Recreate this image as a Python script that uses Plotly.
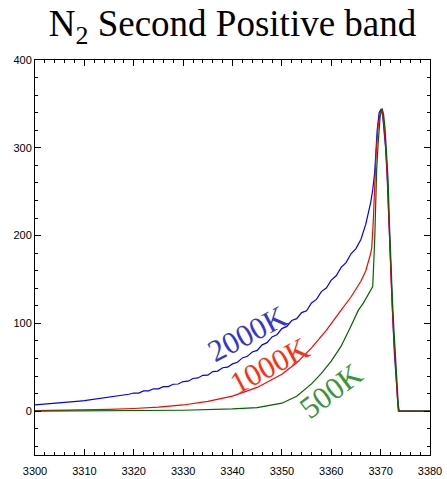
import plotly.graph_objects as go

# ---- data ----
blue_x = [3300, 3301, 3302, 3303, 3304, 3305, 3306, 3307, 3308, 3309,
          3310, 3311, 3312, 3313, 3314, 3315, 3316, 3317, 3318, 3319,
          3320, 3321, 3322, 3323, 3324, 3325, 3326, 3327, 3328, 3329,
          3330, 3331, 3332, 3333, 3334, 3335, 3336, 3337, 3338, 3339,
          3340, 3341, 3342, 3343, 3344, 3345, 3346, 3347, 3348, 3349,
          3350, 3351, 3352, 3353, 3354, 3355, 3356, 3357, 3358, 3359,
          3360, 3361, 3362, 3363, 3364, 3365, 3366, 3367, 3368, 3368.4,
          3368.8, 3369.3, 3369.7, 3370.1, 3370.4, 3370.7, 3371.0, 3371.3,
          3371.6, 3371.9, 3372.2, 3372.5, 3372.8, 3373.1, 3373.4, 3373.6,
          3374, 3376, 3378, 3380]
blue_y = [7.0, 7.4, 7.8, 8.2, 8.6, 9.0, 9.6, 10.2, 10.8, 11.4,
          12.0, 12.7, 13.4, 14.2, 15.0, 16.0, 16.8, 17.6, 18.4, 19.2,
          20.6, 20.6, 23.0, 23.0, 25.4, 25.4, 27.9, 28.0, 30.6, 30.9,
          33.7, 34.1, 37.2, 37.8, 40.8, 41.0, 45.0, 45.6, 49.4, 50.0,
          53.8, 55.6, 60.6, 62.4, 67.4, 69.2, 75.5, 78.0, 84.5, 87.0,
          94.0, 96.5, 103.2, 105.3, 112.2, 114.3, 123.2, 127.3, 136.2, 140.3,
          149.2, 154.2, 163.7, 169.2, 179.2, 185.2, 195.5, 213, 238, 252,
          272, 320, 340, 344, 338, 322, 300, 270,
          225, 170, 130, 100, 65, 35, 10, 0,
          0, 0, 0, 0]

red_x = [3300, 3305, 3310, 3315, 3320, 3325, 3330, 3335, 3340, 3345,
         3350, 3353, 3356, 3359, 3362, 3364, 3366, 3367, 3368, 3368.2,
         3368.5, 3368.8, 3369.1, 3369.5, 3369.9, 3370.2, 3370.5, 3370.8,
         3371.1, 3371.4, 3371.7, 3372.0, 3372.3, 3372.6, 3372.9, 3373.2,
         3373.5, 3373.7, 3374, 3377, 3380]
red_y = [0.5, 0.8, 1.2, 2.0, 3.0, 4.5, 7.0, 11, 17, 27,
         42, 55, 72, 92, 115, 130, 148, 160, 180, 186,
         215, 265, 295, 325, 340, 343, 336, 318,
         296, 262, 212, 160, 125, 92, 58, 28,
         6, 0, 0, 0, 0]

green_x = [3300, 3310, 3320, 3330, 3340, 3345, 3350, 3353, 3356, 3358,
           3360, 3362, 3364, 3365.5, 3366.5, 3367.5, 3368.4, 3368.8,
           3369.2, 3369.5, 3369.9, 3370.3, 3370.6, 3370.9, 3371.2,
           3371.5, 3371.8, 3372.1, 3372.4, 3372.7, 3373.0, 3373.3,
           3373.6, 3373.8, 3374.1, 3377, 3380]
green_y = [0, 0.1, 0.3, 1.0, 2.5, 4.0, 9, 17, 31, 43,
           57, 74, 97, 115, 123, 133, 142, 195,
           275, 305, 335, 345, 338, 322,
           298, 265, 212, 160, 125, 92, 58, 28,
           6, 0, 0, 0, 0]

labels = ["2000K", "1000K", "500K"]
label_x = [3343.1, 3347.5, 3360.0]
label_y = [88.6, 52.5, 23.9]
label_angle = [-28, -28, -37]
label_color = ["#3838c8", "#ff3010", "#3a963a"]

line_colors = ["#0000ff", "#ff0000", "#006400"]

fig = go.Figure()
for xs, ys, c, n in [(blue_x, blue_y, line_colors[0], "2000K"),
                     (red_x, red_y, line_colors[1], "1000K"),
                     (green_x, green_y, line_colors[2], "500K")]:
    fig.add_trace(go.Scatter(x=xs, y=ys, mode="lines", name=n,
                             line=dict(color=c, width=1.2)))

for t, x, y, a, c in zip(labels, label_x, label_y, label_angle, label_color):
    fig.add_annotation(x=x, y=y, xref="x", yref="y", text=t, showarrow=False,
                       textangle=a, font=dict(family="Liberation Serif", size=31, color=c))

axis_common = dict(showline=True, linecolor="black", linewidth=1, mirror="ticks",
                   ticks="inside", ticklen=6, tickcolor="black", tickwidth=1,
                   showgrid=False, zeroline=False, automargin=False,
                   tickfont=dict(family="Liberation Sans", size=11, color="black"))

fig.update_layout(
    width=447, height=479,
    margin=dict(l=35, r=17, t=60, b=24, autoexpand=False),
    paper_bgcolor="white", plot_bgcolor="white",
    showlegend=False,
    title=dict(text="N<sub>2</sub> Second Positive band",
               font=dict(family="Liberation Serif", size=37, color="black"),
               x=0.5, xanchor="center", xref="paper",
               y=0.978, yanchor="top", yref="container"),
    xaxis=dict(range=[3300, 3380], dtick=10, tick0=3300, ticklabelstandoff=6,
               minor=dict(dtick=2, ticklen=3, ticks="inside", tickcolor="black"),
               **axis_common),
    yaxis=dict(range=[-50, 400], dtick=100, tick0=0,
               minor=dict(dtick=20, ticklen=3, ticks="inside", tickcolor="black"),
               **axis_common),
)

fig.write_html("out.html")
